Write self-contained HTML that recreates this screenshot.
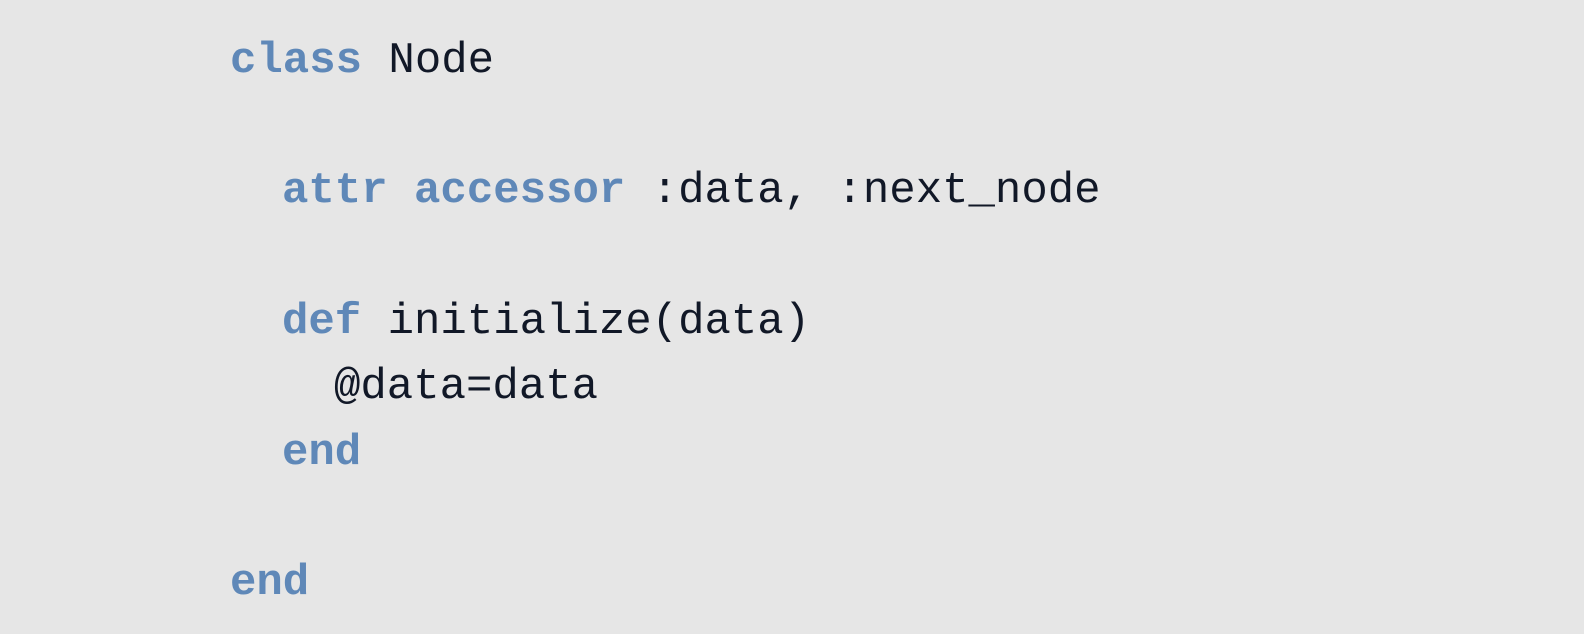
<!DOCTYPE html>
<html><head><meta charset="utf-8"><style>
html,body{margin:0;padding:0;background:#e6e6e6;width:1584px;height:634px;overflow:hidden}
svg{display:block}
text{font-family:"Liberation Mono",monospace;font-size:44px;fill:#111827;white-space:pre}
.k{fill:#5f88b8;font-weight:bold}
</style></head><body>
<svg width="1584" height="634" xmlns="http://www.w3.org/2000/svg">
<rect width="1584" height="634" fill="#e6e6e6"/>
<text x="230" y="72" xml:space="preserve"><tspan class="k">class</tspan> Node</text>
<text x="282" y="202" xml:space="preserve"><tspan class="k">attr accessor</tspan> :data, :next_node</text>
<text x="282" y="333" xml:space="preserve"><tspan class="k">def</tspan> initialize(data)</text>
<text x="334" y="398" xml:space="preserve">@data=data</text>
<text x="282" y="464" class="k">end</text>
<text x="230" y="594" class="k">end</text>
</svg>
</body></html>
